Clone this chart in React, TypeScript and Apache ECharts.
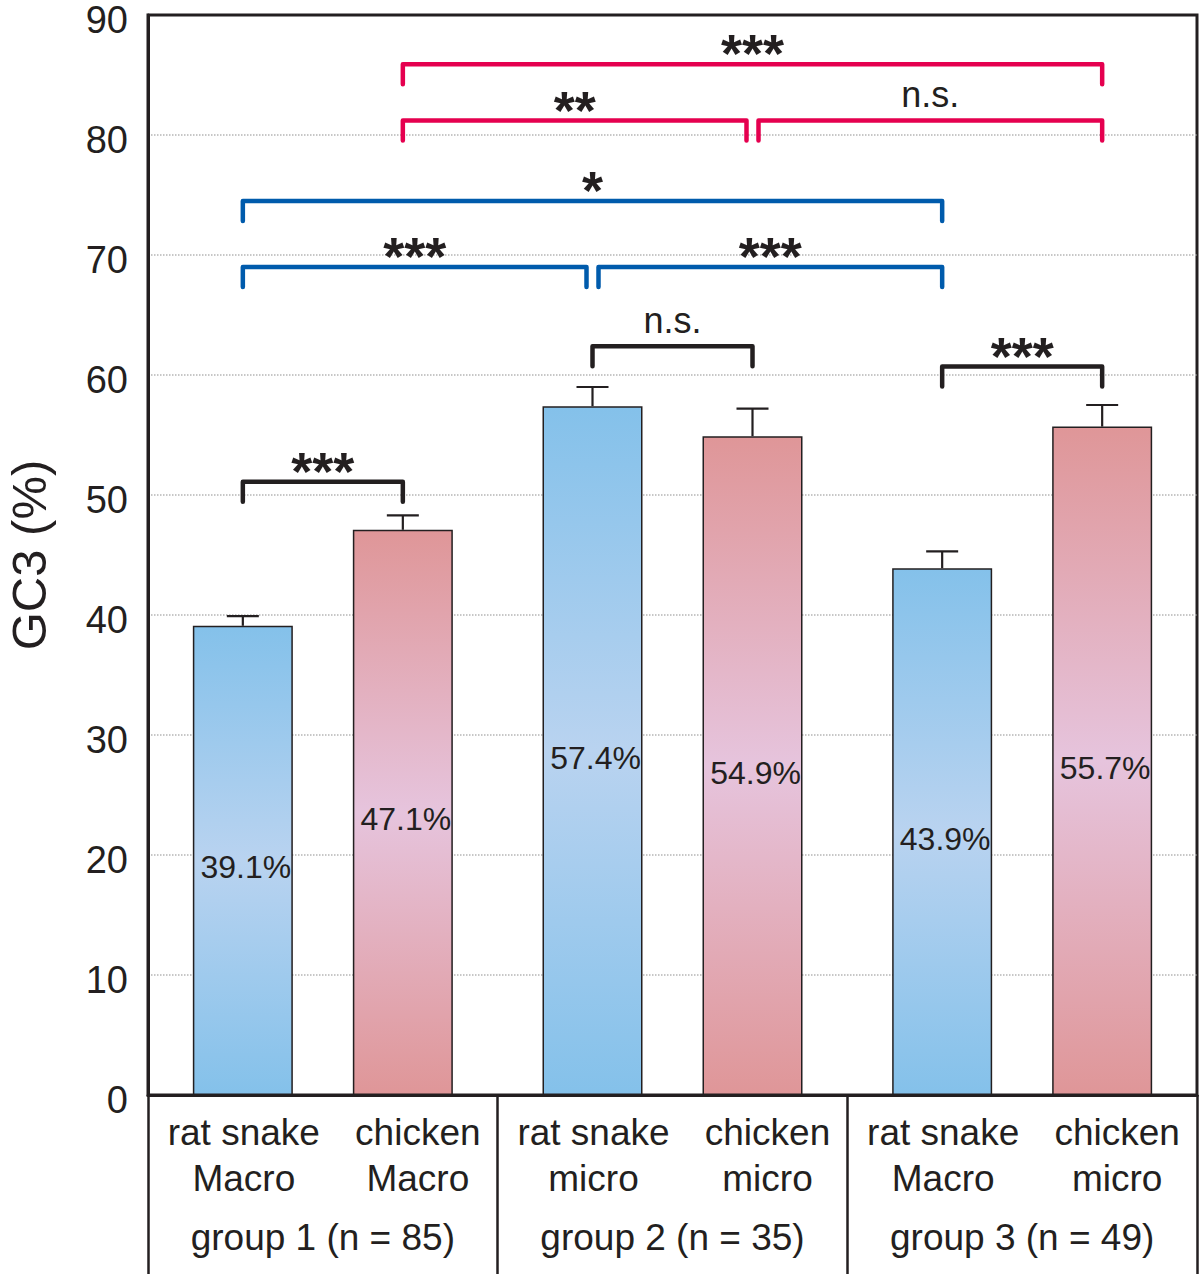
import React, { useEffect, useRef } from 'react';
import * as echarts from 'echarts';

// ---- data ----
const groups = ['group 1 (n = 85)', 'group 2 (n = 35)', 'group 3 (n = 49)'];
const ratSnakeGC3 = [39.1, 57.4, 43.9];
const ratSnakeErr = [0.8, 1.6, 1.4];
const chickenGC3 = [47.1, 54.9, 55.7];
const chickenErr = [1.2, 2.3, 1.8];
// bar order: g1 rat, g1 chicken, g2 rat, g2 chicken, g3 rat, g3 chicken
const barNames = [
  'rat snake\nMacro', 'chicken\nMacro',
  'rat snake\nmicro', 'chicken\nmicro',
  'rat snake\nMacro', 'chicken\nmicro',
];
// significance brackets (bar indices 0..5)
const bracketFrom = [0, 2, 4, 0, 2, 0, 1, 3, 1];
const bracketTo = [1, 3, 5, 2, 4, 4, 3, 5, 5];
const bracketLevel = [51.1, 62.4, 60.7, 69.0, 69.0, 74.5, 81.2, 81.2, 85.9];
const bracketLabel = ['***', 'n.s.', '***', '***', '***', '*', '**', 'n.s.', '***'];
const bracketKind = ['k', 'k', 'k', 'b', 'b', 'b', 'r', 'r', 'r'];

// ---- styles ----
const FONT = '"Liberation Sans", Arial, Helvetica, sans-serif';
const INK = '#231f20';
const KIND_COLOR: Record<string, string> = { k: '#231f20', b: '#005bac', r: '#e5004f' };
const BAR_OFF = 80; // px offset of each bar from category centre
const LEG = 20;

function barX(api: any, i: number) {
  return api.coord([Math.floor(i / 2), 0])[0] + (i % 2 ? BAR_OFF : -BAR_OFF);
}

function shared(k: number, bar: number) {
  for (let j = 0; j < bracketFrom.length; j++) {
    if (j === k) continue;
    if (bracketLevel[j] === bracketLevel[k] && (bracketFrom[j] === bar || bracketTo[j] === bar)) return true;
  }
  return false;
}

function grad(edge: string, mid: string) {
  return new echarts.graphic.LinearGradient(0, 0, 0, 1, [
    { offset: 0, color: edge },
    { offset: 0.5, color: mid },
    { offset: 1, color: edge },
  ]);
}

export default function App() {
  const ref = useRef<HTMLDivElement>(null);
  useEffect(() => {
    document.body.style.margin = '0';
    const chart = echarts.init(ref.current!, undefined, { renderer: 'svg' });

    const errData: number[][] = [];
    for (let g = 0; g < groups.length; g++) {
      errData.push([g, ratSnakeGC3[g], ratSnakeErr[g], 0]);
      errData.push([g, chickenGC3[g], chickenErr[g], 1]);
    }
    const nameData = barNames.map((_, i) => [Math.floor(i / 2), 0, i]);
    const bracketData = bracketFrom.map((f, k) => [0, bracketTo[k], bracketLevel[k], k, f]);

    const barLabel = {
      show: true,
      position: 'inside',
      offset: [3, 7],
      formatter: '{c}%',
      fontSize: 32,
      fontFamily: FONT,
      color: INK,
    };

    chart.setOption({
      animation: false,
      grid: {
        left: 148, right: 3, top: 15, bottom: 179,
        outerBoundsMode: 'none',
        containLabel: false,
        show: true, borderColor: INK, borderWidth: 3, backgroundColor: 'transparent',
      },
      xAxis: {
        type: 'category',
        data: groups,
        axisLine: { show: true, lineStyle: { color: INK, width: 3 } },
        axisTick: { show: true, length: 180, interval: 0, lineStyle: { color: INK, width: 2.5 } },
        axisLabel: { margin: 124, fontSize: 37, fontFamily: FONT, color: INK, interval: 0 },
        splitLine: { show: false },
      },
      yAxis: {
        type: 'value',
        min: 0, max: 90, interval: 10,
        name: 'GC3 (%)',
        nameLocation: 'middle',
        nameGap: 95,
        nameTextStyle: { fontSize: 49, fontFamily: FONT, color: INK },
        axisLine: { show: true, lineStyle: { color: INK, width: 3 } },
        axisTick: { show: false },
        axisLabel: {
          margin: 20, fontSize: 38, fontFamily: FONT, color: INK,
          verticalAlign: 'top', lineHeight: 10,
        },
        splitLine: {
          show: true, showMinLine: false, showMaxLine: false,
          lineStyle: { color: '#b5b5b5', type: 'dotted', width: 1.5 },
        },
      },
      series: [
        {
          name: 'rat snake',
          type: 'bar',
          data: ratSnakeGC3,
          barWidth: 100,
          barGap: '60%',
          itemStyle: { color: grad('#84c1ea', '#b9d3f0'), borderColor: INK, borderWidth: 1.5 },
          label: barLabel,
          z: 2,
        },
        {
          name: 'chicken',
          type: 'bar',
          data: chickenGC3,
          barWidth: 100,
          barGap: '60%',
          itemStyle: { color: grad('#df9698', '#e6c4dd'), borderColor: INK, borderWidth: 1.5 },
          label: barLabel,
          z: 2,
        },
        {
          name: 'error',
          type: 'custom',
          data: errData,
          encode: { x: 0, y: 1 },
          z: 3,
          renderItem: (params: any, api: any) => {
            const g = api.value(0), v = api.value(1), e = api.value(2), s = api.value(3);
            const x = api.coord([g, 0])[0] + (s ? BAR_OFF : -BAR_OFF);
            const y0 = api.coord([g, v])[1];
            const y1 = api.coord([g, v + e])[1];
            const style = { stroke: INK, lineWidth: 2.2, fill: 'none' };
            return {
              type: 'group',
              children: [
                { type: 'line', shape: { x1: x, y1: y0, x2: x, y2: y1 }, style },
                { type: 'line', shape: { x1: x - 16, y1: y1, x2: x + 16, y2: y1 }, style },
              ],
            };
          },
        },
        {
          name: 'barNames',
          type: 'custom',
          data: nameData,
          encode: { x: 0, y: 1 },
          clip: false,
          renderItem: (params: any, api: any) => {
            const i = api.value(2);
            const pt = api.coord([api.value(0), 0]);
            const x = pt[0] + (i % 2 ? BAR_OFF + 15 : -BAR_OFF + 1);
            return {
              type: 'text',
              style: {
                text: barNames[i],
                x,
                y: pt[1] + 60,
                align: 'center',
                verticalAlign: 'middle',
                fontSize: 37,
                lineHeight: 46,
                fontFamily: FONT,
                fill: INK,
              },
            };
          },
        },
        {
          name: 'brackets',
          type: 'custom',
          data: bracketData,
          encode: { x: 0, y: 2 },
          clip: false,
          z: 4,
          renderItem: (params: any, api: any) => {
            const k = api.value(3);
            const from = bracketFrom[k], to = bracketTo[k];
            let x1 = barX(api, from), x2 = barX(api, to);
            if (shared(k, from)) x1 += 6;
            if (shared(k, to)) x2 -= 6;
            const y = api.coord([0, bracketLevel[k]])[1];
            const color = KIND_COLOR[bracketKind[k]];
            const label = bracketLabel[k];
            const star = label.indexOf('*') >= 0;
            return {
              type: 'group',
              children: [
                {
                  type: 'polyline',
                  shape: { points: [[x1, y + LEG], [x1, y], [x2, y], [x2, y + LEG]] },
                  style: { stroke: color, lineWidth: 4.5, fill: 'none', lineCap: 'round', lineJoin: 'round' },
                },
                {
                  type: 'text',
                  style: {
                    text: label,
                    x: (x1 + x2) / 2,
                    y: star ? y - 11 : y - 26,
                    align: 'center',
                    verticalAlign: 'middle',
                    fontSize: star ? 54 : 36,
                    fontWeight: star ? 'bold' : 'normal',
                    fontFamily: FONT,
                    fill: INK,
                  },
                },
              ],
            };
          },
        },
      ],
    });
    return () => chart.dispose();
  }, []);
  return <div ref={ref} style={{ width: 1200, height: 1274 }} />;
}
